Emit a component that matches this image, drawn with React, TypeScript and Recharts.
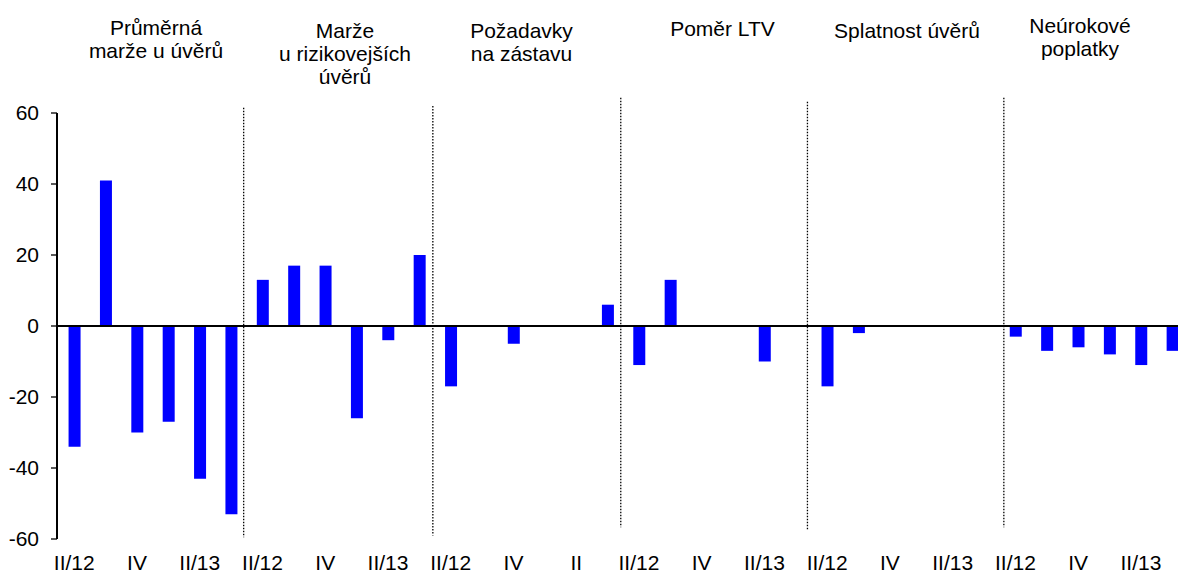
import { BarChart, Bar, XAxis, YAxis, ReferenceLine } from "recharts";

// one entry per panel, six quarters each
const groupTitles: string[][] = [
  ["Průměrná", "marže u úvěrů"],
  ["Marže", "u rizikovejších", "úvěrů"],
  ["Požadavky", "na zástavu"],
  ["Poměr LTV"],
  ["Splatnost úvěrů"],
  ["Neúrokové", "poplatky"],
];

const quarters = ["II/12", "III/12", "IV/12", "I/13", "II/13", "III/13"];

// labels printed under the bars (only every second quarter is shown)
const shownLabels: string[][] = [
  ["II/12", "IV", "II/13"],
  ["II/12", "IV", "II/13"],
  ["II/12", "IV", "II"],
  ["II/12", "IV", "II/13"],
  ["II/12", "IV", "II/13"],
  ["II/12", "IV", "II/13"],
];

const avgMargin = [-34, 41, -30, -27, -43, -53];
const riskyMargin = [13, 17, 17, -26, -4, 20];
const collateral = [-17, 0, -5, 0, 0, 6];
const ltvRatio = [-11, 13, 0, 0, -10, 0];
const maturity = [-17, -2, 0, 0, 0, 0];
const fees = [-3, -7, -6, -8, -11, -7];

const yTicks = [-60, -40, -20, 0, 20, 40, 60];

const seriesByGroup = [avgMargin, riskyMargin, collateral, ltvRatio, maturity, fees];

const data = seriesByGroup.flatMap((vals, g) =>
  vals.map((v, q) => ({
    idx: g * quarters.length + q,
    group: g,
    quarter: quarters[q],
    value: v,
  }))
);

const tickIdx: number[] = [];
const tickText: Record<number, string> = {};
shownLabels.forEach((labels, g) => {
  labels.forEach((lab, k) => {
    const i = g * quarters.length + k * 2;
    tickIdx.push(i);
    tickText[i] = lab;
  });
});

// dotted separators between panels (x in category units, y span in value units)
const separators = [
  { x: 5.4, y1: 61.5, y2: -59.5 },
  { x: 11.43, y1: 62, y2: -59 },
  { x: 17.42, y1: 64.3, y2: -56.7 },
  { x: 23.37, y1: 63.2, y2: -57.3 },
  { x: 29.63, y1: 64.3, y2: -56.7 },
];

// where the panel titles sit (centre x, first baseline)
const titlePos = [
  { x: 156, y: 34.5 },
  { x: 345, y: 38 },
  { x: 521.5, y: 37.5 },
  { x: 722.5, y: 35.5 },
  { x: 907, y: 37.5 },
  { x: 1080, y: 32.5 },
];

const FONT = "'Liberation Sans', Arial, Helvetica, sans-serif";
const FS = 21;

export default function App() {
  return (
    <div
      style={{
        position: "fixed",
        left: 0,
        top: 0,
        width: 1178,
        height: 573,
        overflow: "hidden",
        background: "#fff",
        fontFamily: FONT,
      }}
    >
      <BarChart
        width={1190}
        height={573}
        data={data}
        margin={{ top: 113, right: 2, bottom: 0, left: 0 }}
        barSize={12}
      >
        <XAxis
          dataKey="idx"
          type="number"
          domain={[-0.55, 35.5]}
          ticks={tickIdx}
          interval={0}
          tickFormatter={(v: number) => tickText[v] ?? ""}
          axisLine={false}
          tickLine={false}
          tickSize={6}
          tickMargin={10}
          height={34}
          tick={{ fill: "#000", fontSize: FS, fontFamily: FONT }}
        />
        <YAxis
          type="number"
          domain={[-60, 60]}
          ticks={yTicks}
          interval={0}
          width={57}
          axisLine={{ stroke: "#000", strokeWidth: 2 }}
          tickLine={{ stroke: "#000", strokeWidth: 1.3 }}
          tickSize={6}
          tickMargin={12}
          tick={{ fill: "#000", fontSize: FS, fontFamily: FONT }}
        />
        {separators.map((s, i) => (
          <ReferenceLine
            key={`sep-${i}`}
            segment={[
              { x: s.x, y: s.y1 },
              { x: s.x, y: s.y2 },
            ]}
            ifOverflow="visible"
            stroke="#000"
            strokeWidth={1.3}
            strokeDasharray="1.5 1.5"
          />
        ))}
        <Bar dataKey="value" fill="#0000ff" isAnimationActive={false} />
        <ReferenceLine y={0} stroke="#000" strokeWidth={2} />
      </BarChart>
      <svg
        width={1178}
        height={573}
        style={{ position: "absolute", left: 0, top: 0, pointerEvents: "none" }}
      >
        {groupTitles.map((lines, g) =>
          lines.map((line, l) => (
            <text
              key={`t-${g}-${l}`}
              x={titlePos[g].x}
              y={titlePos[g].y + l * 23}
              textAnchor="middle"
              fontSize={FS}
              fontFamily={FONT}
              fill="#000"
            >
              {line}
            </text>
          ))
        )}
      </svg>
    </div>
  );
}
